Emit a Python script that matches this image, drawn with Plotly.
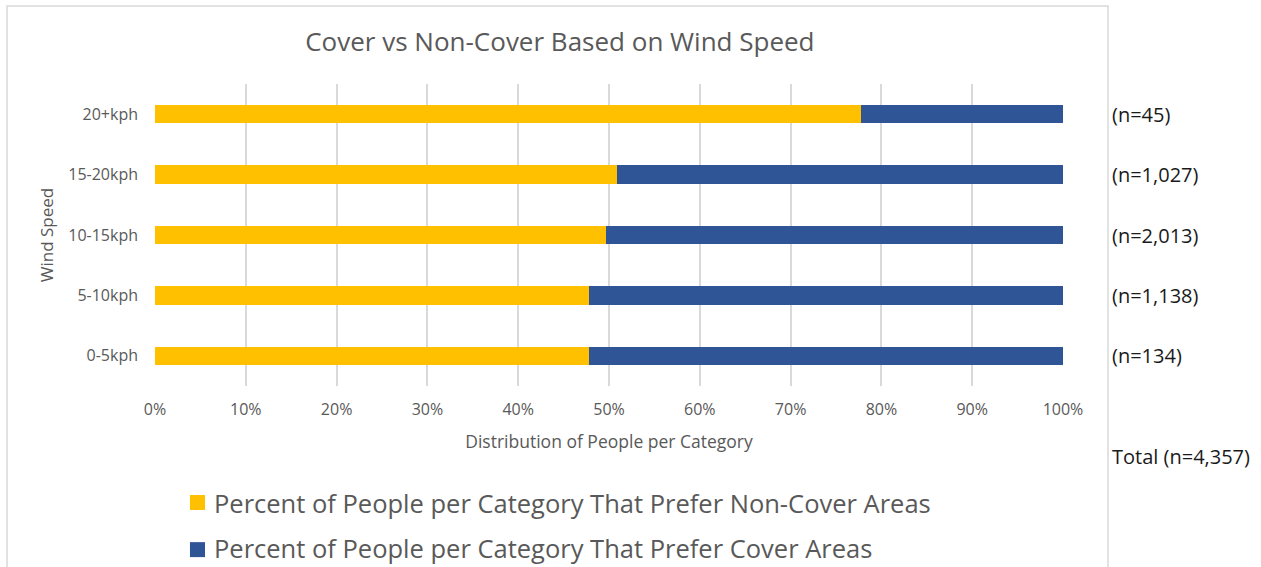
import plotly.graph_objects as go

# Wind speed categories, bottom to top
categories = ["0-5kph", "5-10kph", "10-15kph", "15-20kph", "20+kph"]
# Share of people (%) in each category by preferred area
non_cover_pct = [47.8, 47.8, 49.7, 50.9, 77.8]
cover_pct = [52.2, 52.2, 50.3, 49.1, 22.2]
# Sample sizes per category
sample_labels = ["(n=134)", "(n=1,138)", "(n=2,013)", "(n=1,027)", "(n=45)"]
total_label = "Total (n=4,357)"

x_tick_vals = [0, 10, 20, 30, 40, 50, 60, 70, 80, 90, 100]
x_tick_text = ["0%", "10%", "20%", "30%", "40%", "50%", "60%", "70%", "80%", "90%", "100%"]

series_names = [
    "Percent of People per Category That Prefer Non-Cover Areas",
    "Percent of People per Category That Prefer Cover Areas",
]
series_colors = ["#FFC000", "#2F5597"]

FONT = "Open Sans"
GRAY = "#595959"

fig = go.Figure()
for name, vals, color in zip(series_names, [non_cover_pct, cover_pct], series_colors):
    fig.add_trace(go.Bar(
        y=categories, x=vals, orientation="h", name=name,
        marker=dict(color=color, line=dict(width=0)),
        showlegend=False,
    ))

# Sample size labels to the right of each bar
for cat, lab in zip(categories, sample_labels):
    fig.add_annotation(
        x=1.0518, xref="paper", y=cat, yref="y", text=lab,
        showarrow=False, xanchor="left", yanchor="middle",
        font=dict(family=FONT, size=20, color="#1a1a1a"),
    )
fig.add_annotation(
    x=1.0518, xref="paper", y=-0.235, yref="paper", text=total_label,
    showarrow=False, xanchor="left", yanchor="middle",
    font=dict(family=FONT, size=20, color="#1a1a1a"),
)

# Legend below the chart: colour key squares with series names
legend_rows = [(-0.361, -0.4106, -0.3874), (-0.517, -0.5666, -0.5364)]
for (y_top, y_bot, y_mid), name, color in zip(legend_rows, series_names, series_colors):
    fig.add_shape(
        type="rect", xref="paper", yref="paper",
        x0=0.0385, x1=0.0551, y0=y_bot, y1=y_top,
        fillcolor=color, line=dict(width=0),
    )
    fig.add_annotation(
        x=0.063, xref="paper", y=y_mid, yref="paper", text=name,
        showarrow=False, xanchor="left", yanchor="middle",
        font=dict(family=FONT, size=25.5, color=GRAY),
    )

# Chart frame
fig.add_shape(
    type="rect", xref="paper", yref="paper",
    x0=-0.163, x1=1.0496, y0=-0.64, y1=1.258,
    line=dict(color="#D9D9D9", width=1.5), fillcolor="rgba(0,0,0,0)",
    layer="below",
)

fig.update_layout(
    width=1261, height=567,
    margin=dict(l=155, r=198, t=84, b=181),
    paper_bgcolor="white", plot_bgcolor="white",
    barmode="stack", bargap=0.694,
    showlegend=False,
    title=dict(
        text="Cover vs Non-Cover Based on Wind Speed",
        x=0.444, xref="container", xanchor="center",
        y=1 - 42 / 567, yref="container", yanchor="middle",
        font=dict(family=FONT, size=26, color=GRAY),
    ),
    font=dict(family=FONT, color=GRAY),
    xaxis=dict(
        range=[0, 100], tickvals=x_tick_vals, ticktext=x_tick_text,
        showgrid=True, gridcolor="#D9D9D9", gridwidth=1.5,
        zeroline=False, showline=False, ticks="",
        tickfont=dict(family=FONT, size=16, color=GRAY),
        ticklabelstandoff=12,
        title=dict(text="Distribution of People per Category",
                   font=dict(family=FONT, size=17.5, color=GRAY), standoff=16),
    ),
    yaxis=dict(
        categoryorder="array", categoryarray=categories,
        showgrid=False, zeroline=False, showline=False, ticks="",
        tickfont=dict(family=FONT, size=16, color=GRAY),
        ticklabelstandoff=16,
        title=dict(text="Wind Speed",
                   font=dict(family=FONT, size=17, color=GRAY), standoff=10),
    ),
)

fig.write_html("out.html")
